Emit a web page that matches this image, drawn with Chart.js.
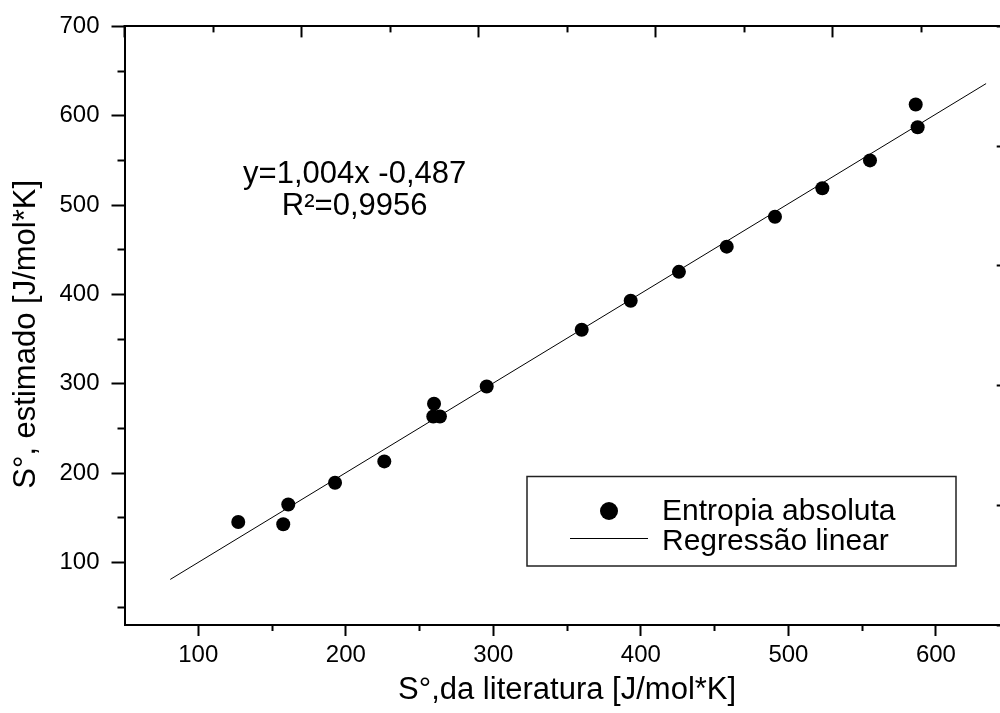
<!DOCTYPE html>
<html><head><meta charset="utf-8">
<script src="https://cdn.jsdelivr.net/npm/chart.js@4"></script>
<style>
html,body{margin:0;padding:0;background:#fff;overflow:hidden;}
#wrap{position:relative;width:1020px;height:713px;}
</style></head><body>
<div id="wrap"><canvas id="c"></canvas></div>
<script>
// ---- data ----
const litX = [127.1, 157.6, 161.0, 192.7, 226.1, 259.8, 259.3, 263.8, 295.5, 359.9, 393.1, 425.8, 458.2, 490.9, 523.0, 555.3, 586.3, 587.6];
const estY = [145.3, 142.8, 164.8, 189.3, 213.1, 277.6, 263.4, 263.4, 296.9, 360.5, 392.9, 425.3, 453.5, 487.0, 518.8, 550.0, 612.6, 587.2];
const regX = [81, 634];
const regY = [81, 636];
const xTicks = [100, 200, 300, 400, 500, 600];
const xMinorTicks = [150, 250, 350, 450, 550, 650];
const yTicks = [100, 200, 300, 400, 500, 600, 700];
const yMinorTicks = [50, 150, 250, 350, 450, 550, 650];
const topMajorTicks = [0, 2, 4, 6, 8, 10];
const topMinorTicks = [1, 3, 5, 7, 9];
const rightTicks = [0, 1, 2, 3, 4, 5];
const seriesNames = ['Entropia absoluta', 'Regressão linear'];
const eqLines = ['y=1,004x -0,487', 'R²=0,9956'];
const eqPos = {x: 206, y1: 525, y2: 489};
const xTitle = 'S°,da literatura [J/mol*K]';
const yTitle = 'S°, estimado [J/mol*K]\u00a0\u00a0';

// ---- layout ----
const W = 1020, H = 713;
const LEFT = 124.5, TOP = 25, BOTTOM = 625, RIGHT = 1009.7;
const FONT = '"Liberation Sans", Arial, Helvetica, sans-serif';

Chart.defaults.font.family = FONT;
Chart.defaults.color = '#000';

const fixed = arr => (s => { s.ticks = arr.map(v => ({value: v})); });
const size = (prop, v) => (s => { s[prop] = v; });

function axis(opts) {
  return Object.assign({
    type: 'linear',
    grid: {display: true, drawOnChartArea: false, color: '#000', tickColor: '#000', tickWidth: 2, tickLength: 10},
    border: {display: false},
    ticks: {display: false, autoSkip: false}
  }, opts);
}

const data = {
  datasets: [
    {
      label: seriesNames[0],
      data: litX.map((x, i) => ({x: x, y: estY[i]})),
      pointRadius: 7, pointHoverRadius: 7,
      pointBackgroundColor: '#000', pointBorderWidth: 0,
      showLine: false, order: 1
    },
    {
      label: seriesNames[1],
      data: regX.map((x, i) => ({x: x, y: regY[i]})),
      showLine: true, borderColor: '#000', borderWidth: 1,
      pointRadius: 0, pointHoverRadius: 0, order: 2
    }
  ]
};

const overlay = {
  id: 'overlay',
  afterDraw(chart) {
    const ctx = chart.ctx, sx = chart.scales.x, sy = chart.scales.y;
    ctx.save();
    ctx.fillStyle = '#000';
    // regression equation
    ctx.font = '31px ' + FONT;
    ctx.textAlign = 'center';
    ctx.textBaseline = 'alphabetic';
    ctx.fillText(eqLines[0], sx.getPixelForValue(eqPos.x), sy.getPixelForValue(eqPos.y1));
    ctx.fillText(eqLines[1], sx.getPixelForValue(eqPos.x), sy.getPixelForValue(eqPos.y2));
    // legend box
    ctx.strokeStyle = '#222';
    ctx.lineWidth = 1.5;
    ctx.fillStyle = '#fff';
    ctx.fillRect(527, 476.5, 429, 89.5);
    ctx.strokeRect(527, 476.5, 429, 89.5);
    ctx.fillStyle = '#000';
    ctx.beginPath();
    ctx.arc(609, 511, 9, 0, Math.PI * 2);
    ctx.fill();
    ctx.strokeStyle = '#000';
    ctx.lineWidth = 1;
    ctx.beginPath();
    ctx.moveTo(570, 538.5);
    ctx.lineTo(648, 538.5);
    ctx.stroke();
    ctx.font = '30px ' + FONT;
    ctx.textAlign = 'left';
    ctx.fillText(seriesNames[0], 662, 519.5);
    ctx.fillText(seriesNames[1], 662, 549.5);
    ctx.restore();
  }
};

new Chart(document.getElementById('c'), {
  type: 'scatter',
  data: data,
  plugins: [overlay],
  options: {
    responsive: true,
    maintainAspectRatio: false,
    animation: false,
    layout: {padding: 0},
    plugins: {legend: {display: false}, tooltip: {enabled: false}},
    scales: {
      x: axis({
        position: 'bottom', weight: 1, min: 50, max: 650,
        afterBuildTicks: fixed(xTicks), afterFit: size('height', H - BOTTOM),
        grid: {display: true, drawOnChartArea: false, color: '#000', tickColor: '#000', tickWidth: 2, tickLength: 11},
        border: {display: true, color: '#000', width: 2},
        ticks: {display: true, autoSkip: false, maxRotation: 0, padding: 5, font: {size: 24}, color: '#000'},
        title: {display: true, text: xTitle, font: {size: 31}, color: '#000', padding: {top: 0, bottom: 4}}
      }),
      xMinor: axis({
        position: 'bottom', weight: 0, min: 50, max: 650,
        afterBuildTicks: fixed(xMinorTicks), afterFit: size('height', 0),
        grid: {display: true, drawOnChartArea: false, color: '#000', tickColor: '#000', tickWidth: 2, tickLength: 6}
      }),
      y: axis({
        position: 'left', weight: 1, min: 30, max: 700,
        afterBuildTicks: fixed(yTicks), afterFit: size('width', LEFT),
        grid: {display: true, drawOnChartArea: false, color: '#000', tickColor: '#000', tickWidth: 2, tickLength: 13},
        border: {display: true, color: '#000', width: 2},
        ticks: {display: true, autoSkip: false, padding: 12, font: {size: 24}, color: '#000'},
        title: {display: true, text: yTitle, font: {size: 31}, color: '#000', padding: {top: 8, bottom: 0}}
      }),
      yMinor: axis({
        position: 'left', weight: 0, min: 30, max: 700,
        afterBuildTicks: fixed(yMinorTicks), afterFit: size('width', 0),
        grid: {display: true, drawOnChartArea: false, color: '#000', tickColor: '#000', tickWidth: 2, tickLength: 7}
      }),
      x2: axis({
        position: 'top', weight: 1, min: 0, max: 10,
        afterBuildTicks: fixed(topMajorTicks), afterFit: size('height', TOP),
        grid: {display: true, drawOnChartArea: false, color: '#000', tickColor: '#000', tickWidth: 2, tickLength: -11},
        border: {display: true, color: '#000', width: 2}
      }),
      x2Minor: axis({
        position: 'top', weight: 0, min: 0, max: 10,
        afterBuildTicks: fixed(topMinorTicks), afterFit: size('height', 0),
        grid: {display: true, drawOnChartArea: false, color: '#000', tickColor: '#000', tickWidth: 2, tickLength: -6}
      }),
      y2: axis({
        position: 'right', weight: 1, min: 0, max: 5,
        afterBuildTicks: fixed(rightTicks), afterFit: size('width', W - RIGHT),
        grid: {display: true, drawOnChartArea: false, color: '#000', tickColor: '#000', tickWidth: 2, tickLength: -13},
        border: {display: true, color: '#000', width: 2}
      })
    }
  }
});
</script>
</body></html>
